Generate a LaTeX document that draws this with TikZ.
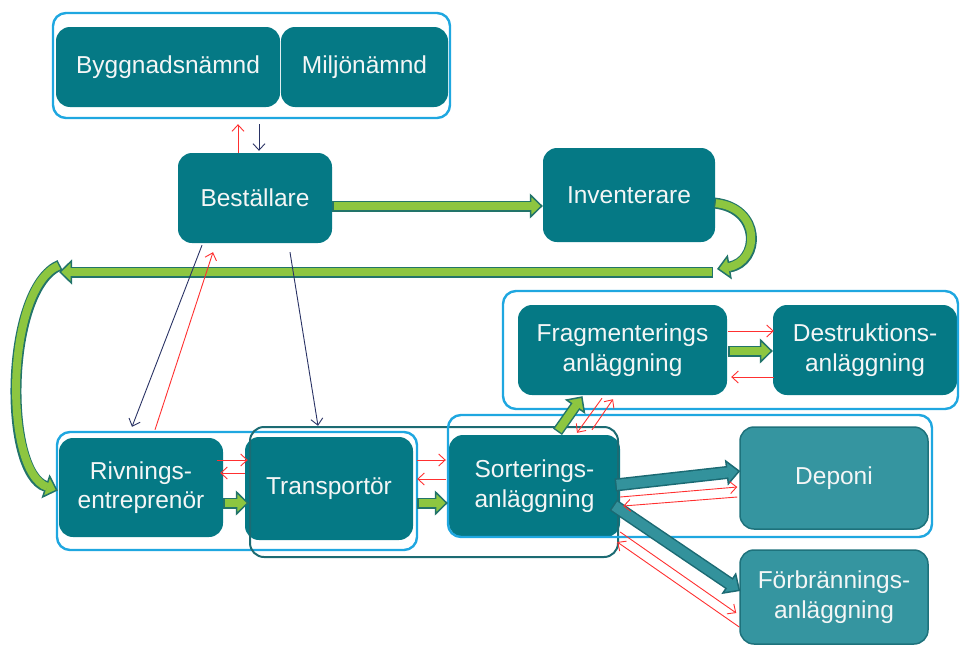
\documentclass[tikz,border=0pt]{standalone}
\usepackage{fontspec}
\setmainfont{Liberation Sans}
\usetikzlibrary{arrows.meta,calc}
\definecolor{boxteal}{HTML}{057985}
\definecolor{lblue}{HTML}{1FA7E0}
\definecolor{dteal}{HTML}{1C6B73}
\definecolor{lgreen}{HTML}{8DC640}
\definecolor{gedge}{HTML}{22746A}
\definecolor{redA}{HTML}{FF3030}
\definecolor{navyA}{HTML}{2A3365}
\definecolor{depfill}{HTML}{3595A0}
\definecolor{depedge}{HTML}{1E727C}
\definecolor{tarrfill}{HTML}{33929C}
\definecolor{tarredge}{HTML}{1B6A73}
\definecolor{txt}{HTML}{F4F6F6}
\begin{document}
\begin{tikzpicture}[x=1pt,y=-1pt,
  tbox/.style={fill=boxteal, rounded corners=14pt, text=txt, align=center, inner sep=0pt, font=\fontsize{24.5}{29.5}\selectfont},
  dbox/.style={tbox, fill=depfill, draw=depedge, line width=1.5pt},
  cont/.style={draw=lblue, line width=2.4pt, rounded corners=13pt, inner sep=0pt},
  dcont/.style={draw=dteal, line width=2pt, rounded corners=14pt, inner sep=0pt},
  rarr/.style={draw=redA, line width=0.9pt, -{Straight Barb[length=6.5pt,width=12pt]}},
  narr/.style={draw=navyA, line width=0.9pt, -{Straight Barb[length=6.5pt,width=12pt]}},
  gout/.style={draw=gedge, line width=11pt, -{Triangle[length=13pt,width=25pt,fill=lgreen,line width=1.5pt]}},
  gin/.style={draw=lgreen, line width=8pt, shorten >=11pt, shorten <=1.5pt},
  tout/.style={draw=tarredge, line width=13pt, -{Triangle[length=14pt,width=26pt,fill=tarrfill,line width=1.5pt]}},
  tin/.style={draw=tarrfill, line width=10pt, shorten >=12pt, shorten <=1.5pt}
]
\useasboundingbox (0,0) rectangle (960,645);

% boxes
\node[tbox, minimum width=224pt, minimum height=80pt] (bygg) at (168,67) {Byggnadsnämnd};
\node[tbox, minimum width=167pt, minimum height=80pt] (milj) at (364.5,67) {Miljönämnd};
\node[tbox, minimum width=154pt, minimum height=90pt] (best) at (255,198) {Beställare};
\node[tbox, minimum width=172pt, minimum height=94pt] (inv) at (629,195) {Inventerare};
\node[tbox, minimum width=164pt, minimum height=99pt] (riv) at (141,487.5) {Rivnings-\\entreprenör};
\node[tbox, minimum width=168pt, minimum height=103pt] (trans) at (329,488.5) {Transportör};
\node[tbox, minimum width=171pt, minimum height=102pt] (sort) at (534.5,486) {Sorterings-\\anläggning};
\node[tbox, minimum width=209pt, minimum height=90pt] (frag) at (622.5,350) {Fragmenterings\\anläggning};
\node[tbox, minimum width=184pt, minimum height=90pt] (dest) at (865,350) {Destruktions-\\anläggning};
\node[dbox, minimum width=188pt, minimum height=102pt] (dep) at (834,478) {Deponi};
\node[dbox, minimum width=188pt, minimum height=94pt] (forb) at (834,597) {Förbrännings-\\anläggning};

% containers
\node[cont, minimum width=397pt, minimum height=105pt] (topc) at (251.5,65.5) {};
\node[cont, minimum width=360pt, minimum height=118pt] (c1) at (237,491) {};
\node[dcont, minimum width=368pt, minimum height=130pt] (c2) at (434,492) {};
\node[cont, minimum width=484pt, minimum height=122pt] (c3) at (690,476) {};
\node[cont, minimum width=455pt, minimum height=118pt] (c4) at (730.5,350) {};

% green flow
\draw[gout] (best.east |- 0,206) -- (inv.west |- 0,206);
\draw[gin] (best.east |- 0,206) -- (inv.west |- 0,206);
\coordinate (lre) at (713,272);
\coordinate (ll) at (59,272);
\draw[gout] (lre) -- (ll);
\draw[gin] (lre) -- (ll);
\coordinate (lr) at (717,269);
\draw[gout] ($(inv.east)+(-1,8)$) .. controls (762,208) and (760,262) .. (lr);
\draw[gin] ($(inv.east)+(-1,8)$) .. controls (762,208) and (760,262) .. (lr);
\coordinate (lc) at (60,265);
\draw[gout] (lc) .. controls (5,288) and (3,472) .. ($(riv.west)+(-1,3)$);
\draw[gin] (lc) .. controls (5,288) and (3,472) .. ($(riv.west)+(-1,3)$);

\draw[gout] ($(riv.east)+(0,15.5)$) -- ($(trans.west)+(4,14.5)$);
\draw[gin] ($(riv.east)+(0,15.5)$) -- ($(trans.west)+(4,14.5)$);
\draw[gout] ($(trans.east)+(4,14.5)$) -- ($(sort.west)+(-1,17)$);
\draw[gin] ($(trans.east)+(4,14.5)$) -- ($(sort.west)+(-1,17)$);
\draw[gout] ($(sort.north)+(23,-3)$) -- ($(frag.south)+(-40,1)$);
\draw[gin] ($(sort.north)+(23,-3)$) -- ($(frag.south)+(-40,1)$);
\draw[gout] ($(frag.east)+(1,1)$) -- ($(dest.west)+(0,1)$);
\draw[gin] ($(frag.east)+(1,1)$) -- ($(dest.west)+(0,1)$);

% teal block arrows
\draw[tout] ($(sort.east)+(-5,-1)$) -- ($(dep.west)+(1,-7)$);
\draw[tin] ($(sort.east)+(-5,-1)$) -- ($(dep.west)+(1,-7)$);
\draw[tout] ($(sort.east)+(-7,19)$) -- ($(forb.west)+(1,-6)$);
\draw[tin] ($(sort.east)+(-7,19)$) -- ($(forb.west)+(1,-6)$);

% thin arrows
\draw[rarr] ($(best.north)+(-17,0)$) -- ($(topc.south)+(-13.5,5)$);
\draw[narr] ($(topc.south)+(7.5,5)$) -- ($(best.north)+(4,-2)$);
\draw[narr] ($(best.south)+(-53,2)$) -- ($(riv.north)+(-9,-11)$);
\draw[rarr] ($(riv.north)+(14,-8)$) -- ($(best.south)+(-42,9)$);
\draw[narr] ($(best.south)+(35,9)$) -- ($(trans.north)+(-11,-11)$);
\draw[rarr] ($(riv.east)+(-6,-27.5)$) -- ($(trans.west)+(3,-28.5)$);
\draw[rarr] ($(trans.west)+(0,-15.5)$) -- ($(riv.east)+(-3,-14.5)$);
\draw[rarr] ($(trans.east)+(4,-28.5)$) -- ($(sort.west)+(-3,-26)$);
\draw[rarr] ($(sort.west)+(-3,-7)$) -- ($(trans.east)+(4,-9.5)$);
\draw[rarr] ($(frag.south)+(-20.5,3)$) -- ($(sort.north)+(42.5,-2)$);
\draw[rarr] ($(sort.north)+(57.5,-5)$) -- ($(frag.south)+(-9.5,4)$);
\draw[rarr] ($(frag.east)+(1,-19)$) -- ($(dest.west)+(1,-19)$);
\draw[rarr] ($(dest.west)+(1,27)$) -- ($(frag.east)+(4,27)$);
\draw[rarr] ($(sort.east)+(0,11)$) -- ($(dep.west)+(-2,9)$);
\draw[rarr] ($(dep.west)+(-2,19)$) -- ($(sort.east)+(3,20)$);
\draw[rarr] ($(sort.east)+(0,46)$) -- ($(forb.west)+(-3,16)$);
\draw[rarr] ($(forb.west)+(0,30)$) -- ($(sort.east)+(-3,56)$);
\end{tikzpicture}
\end{document}
